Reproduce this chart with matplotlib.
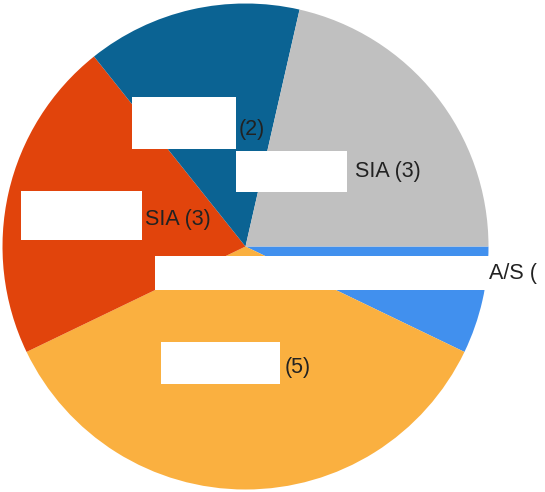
import matplotlib.pyplot as plt
from matplotlib.patches import Rectangle

# slices, clockwise from 3 o'clock
valeurs = [1, 5, 3, 2, 3]
etiquettes = ["A/S (", "(5)", "SIA (3)", "(2)", "SIA (3)"]
couleurs = ["#4190EE", "#FAB040", "#E1440C", "#0B6393", "#C0C0C0"]

# label layout in pixels: text left x, text centre y, redaction box (x0, y0, x1, y1)
pos_texte = [(489, 273), (285, 367), (145, 219), (239, 129), (355, 171)]
boites = [(155, 256, 489, 290), (161, 342, 280, 384), (21, 191, 142, 240),
          (132, 97, 236, 149), (236, 151, 347, 192)]

W, H = 545, 492
CX, CY, R = 245.5, 246.5, 243.0


def px(x, y):
    # pixel -> coordonnées des données (rayon du camembert = 1)
    return (x - CX) / R, (CY - y) / R


fig = plt.figure(figsize=(W / 100, H / 100), dpi=100)
ax = fig.add_axes([0, 0, 1, 1])
ax.pie(valeurs, colors=couleurs, startangle=0, counterclock=False,
       radius=1, wedgeprops=dict(linewidth=0))
ax.set_xlim(px(0, 0)[0], px(W, 0)[0])
ax.set_ylim(px(0, H)[1], px(0, 0)[1])
ax.set_aspect("auto")
ax.axis("off")

for (x0, y0, x1, y1) in boites:
    a, b = px(x0, y1)
    ax.add_patch(Rectangle((a, b), (x1 - x0) / R, (y1 - y0) / R,
                           facecolor="white", edgecolor="none", zorder=3))

for txt, (x, y) in zip(etiquettes, pos_texte):
    a, b = px(x, y)
    ax.text(a, b, txt, ha="left", va="center", fontsize=15.5,
            family="Liberation Sans", color="#222222", zorder=4, clip_on=False)

fig.savefig("out.png", dpi=100)
